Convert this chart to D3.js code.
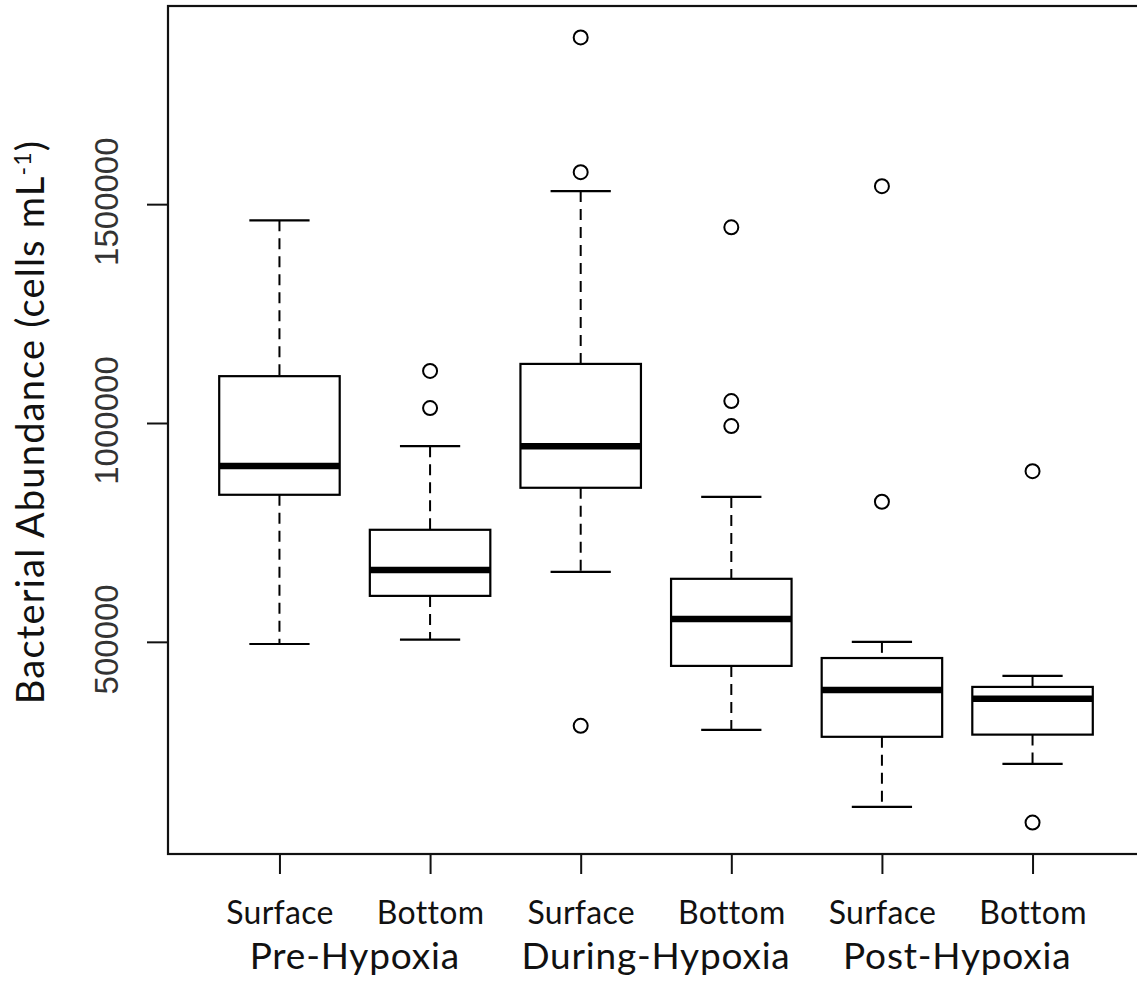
<!DOCTYPE html>
<html>
<head>
<meta charset="utf-8">
<script src="https://cdn.jsdelivr.net/npm/d3@7"></script>
<style>
	body { margin: 0; background: #fff; }
	svg { display: block; }
</style>
</head>
<body>
<svg id="chart" width="1137" height="996"></svg>
<script>

// --------- data ----------------------------------
var categories = ["Surface", "Bottom", "Surface", "Bottom", "Surface", "Bottom"];
var periods = ["Pre-Hypoxia", "During-Hypoxia", "Post-Hypoxia"];

var whiskerLow  = [495000, 505000, 660000, 299000, 123000, 221000];
var q1          = [836000, 605000, 852000, 445000, 283000, 288000];
var median      = [902000, 664000, 947000, 552000, 390000, 370000];
var q3          = [1107000, 756000, 1135000, 644000, 463000, 397000];
var whiskerHigh = [1463000, 947000, 1530000, 831000, 500000, 422000];
var outliers    = [
	[],
	[1119000, 1034000],
	[1881000, 1573000, 308000],
	[1447000, 1050000, 993000],
	[1541000, 820000],
	[890000, 87000]
];

var yTicks = [500000, 1000000, 1500000];

// --------- layout -----------
var plot = { left: 168, top: 6, bottom: 854, right: 1144 };

var svg = d3.select("#chart");

// R style: extend the data range by 4% on each side
var allValues = d3.merge([whiskerLow, whiskerHigh, d3.merge(outliers)]);
var yLo = d3.min(allValues), yHi = d3.max(allValues);
var pad = (yHi - yLo) * 0.04;

var y = d3.scaleLinear()
	.domain([yLo - pad, yHi + pad])
	.range([plot.bottom, plot.top]);

var n = categories.length;
var x = d3.scaleLinear()
	.domain([0.5 - n * 0.04, n + 0.5 + n * 0.04])
	.range([plot.left, plot.right]);

var unit = x(2) - x(1);
var boxW = unit * 0.8;
var capW = boxW / 2;

var boxes = d3.range(n).map(function(i) {
	return {
		pos: i + 1,
		lo: whiskerLow[i], q1: q1[i], med: median[i], q3: q3[i], hi: whiskerHigh[i],
		out: outliers[i]
	};
});

// frame
svg.append("rect")
	.attr("x", plot.left)
	.attr("y", plot.top)
	.attr("width", plot.right - plot.left)
	.attr("height", plot.bottom - plot.top)
	.attr("fill", "none")
	.attr("stroke", "#111")
	.attr("stroke-width", 2.2);

var g = svg.append("g").attr("class", "boxes");

var box = g.selectAll(".box")
	.data(boxes)
	.enter()
	.append("g")
	.attr("class", "box")
	.attr("stroke", "#000")
	.attr("fill", "none");

// whiskers (dashed)
box.append("line")
	.attr("x1", function(d) { return x(d.pos); })
	.attr("x2", function(d) { return x(d.pos); })
	.attr("y1", function(d) { return y(d.hi); })
	.attr("y2", function(d) { return y(d.q3); })
	.attr("stroke-width", 2)
	.attr("stroke-dasharray", "11,7");
box.append("line")
	.attr("x1", function(d) { return x(d.pos); })
	.attr("x2", function(d) { return x(d.pos); })
	.attr("y1", function(d) { return y(d.q1); })
	.attr("y2", function(d) { return y(d.lo); })
	.attr("stroke-width", 2)
	.attr("stroke-dasharray", "11,7");

// staples
["hi", "lo"].forEach(function(k) {
	box.append("line")
		.attr("x1", function(d) { return x(d.pos) - capW / 2; })
		.attr("x2", function(d) { return x(d.pos) + capW / 2; })
		.attr("y1", function(d) { return y(d[k]); })
		.attr("y2", function(d) { return y(d[k]); })
		.attr("stroke-width", 2.2);
});

// box
box.append("rect")
	.attr("x", function(d) { return x(d.pos) - boxW / 2; })
	.attr("y", function(d) { return y(d.q3); })
	.attr("width", boxW)
	.attr("height", function(d) { return y(d.q1) - y(d.q3); })
	.attr("fill", "#fff")
	.attr("stroke-width", 2.2);

// median
box.append("line")
	.attr("x1", function(d) { return x(d.pos) - boxW / 2; })
	.attr("x2", function(d) { return x(d.pos) + boxW / 2; })
	.attr("y1", function(d) { return y(d.med); })
	.attr("y2", function(d) { return y(d.med); })
	.attr("stroke-width", 6.5);

// outliers
box.selectAll("circle")
	.data(function(d) { return d.out.map(function(v) { return { pos: d.pos, v: v }; }); })
	.enter()
	.append("circle")
	.attr("cx", function(d) { return x(d.pos); })
	.attr("cy", function(d) { return y(d.v); })
	.attr("r", 7)
	.attr("stroke-width", 2);

// --------- axes -----------
var yAxis = d3.axisLeft(y)
	.tickValues(yTicks)
	.tickSize(21)
	.tickFormat(d3.format("d"));

var yg = svg.append("g")
	.attr("transform", "translate(" + plot.left + ",0)")
	.call(yAxis);
yg.select(".domain").remove();
yg.selectAll(".tick line").attr("stroke", "#111").attr("stroke-width", 2);
yg.selectAll(".tick text")
	.attr("x", null)
	.attr("dy", null)
	.attr("transform", "translate(-50,-3) rotate(-90)")
	.attr("text-anchor", "middle")
	.attr("fill", "#333")
	.style("font-family", "'Liberation Sans', Arial, sans-serif")
	.style("font-size", "33px");

var xAxis = d3.axisBottom(x)
	.tickValues(d3.range(1, n + 1))
	.tickSize(20)
	.tickFormat(function(d) { return categories[d - 1]; });

var xg = svg.append("g")
	.attr("transform", "translate(0," + plot.bottom + ")")
	.call(xAxis);
xg.select(".domain").remove();
xg.selectAll(".tick line").attr("stroke", "#111").attr("stroke-width", 2);
xg.selectAll(".tick text")
	.attr("y", 70)
	.attr("dy", null)
	.attr("fill", "#111")
	.style("font-family", "Lato, 'Open Sans', sans-serif")
	.style("font-size", "32px")
	.style("letter-spacing", "0.3px");

// period labels under each pair
svg.selectAll(".period")
	.data(periods)
	.enter()
	.append("text")
	.attr("class", "period")
	.attr("x", function(d, i) { return (x(i * 2 + 1) + x(i * 2 + 2)) / 2; })
	.attr("y", plot.bottom + 115)
	.attr("text-anchor", "middle")
	.attr("fill", "#111")
	.style("font-family", "Lato, 'Open Sans', sans-serif")
	.style("font-size", "37px")
	.style("letter-spacing", "0.8px")
	.text(function(d) { return d; });

// y axis title
var title = svg.append("text")
	.attr("transform", "translate(44,422) rotate(-90)")
	.attr("text-anchor", "middle")
	.attr("fill", "#111")
	.style("font-family", "Lato, 'Open Sans', sans-serif")
	.style("font-size", "38px")
	.style("letter-spacing", "1.2px");
title.append("tspan").text("Bacterial Abundance (cells mL");
title.append("tspan").attr("dy", -13).style("font-size", "23px").text("-1");
title.append("tspan").attr("dy", 13).text(")");

</script>
</body>
</html>
